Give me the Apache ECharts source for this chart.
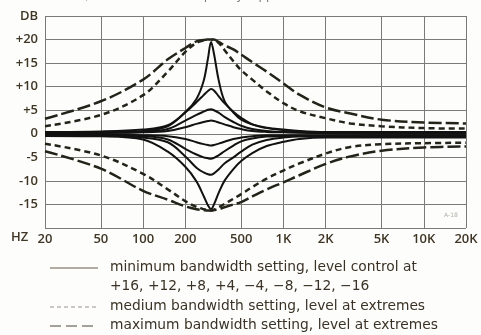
<!DOCTYPE html>
<html>
<head>
<meta charset="utf-8">
<script src="https://cdn.jsdelivr.net/npm/echarts@6/dist/echarts.min.js"></script>
<style>
  html, body { margin: 0; padding: 0; background: #fdfdfb; }
  #chart { width: 481px; height: 335px; }
</style>
</head>
<body>
<div id="chart"></div>
<script>
// frequency grid the curves are read at (Hz)
const freqHz = [20, 50, 100, 150, 200, 240, 270, 290, 305, 320, 345, 380, 440, 500, 600, 760, 1000, 1300, 2000, 3000, 5000, 10000, 20000]

// x-axis gridlines / labels
const gridHz = [20, 50, 100, 200, 500, 1000, 2000, 5000, 10000, 20000]
const gridLabels = ['20', '50', '100', '200', '500', '1K', '2K', '5K', '10K', '20K']

// minimum bandwidth, level control settings (solid)
const minBwPos1 = [0.4, 0.5, 0.9, 1.8, 4.6, 7.4, 11.2, 16.0, 19.5, 17.0, 11.5, 7.0, 4.5, 3.0, 2.0, 1.3, 0.9, 0.6, 0.4, 0.4, 0.4, 0.4, 0.4]
const minBwPos2 = [0.3, 0.35, 0.6, 1.6, 4.5, 6.7, 8.2, 9.1, 9.5, 9.2, 8.0, 6.5, 4.7, 3.4, 2.0, 1.2, 0.8, 0.5, 0.3, 0.3, 0.3, 0.3, 0.3]
const minBwPos3 = [0.2, 0.25, 0.4, 1.0, 2.8, 4.0, 4.7, 5.1, 5.2, 5.0, 4.5, 3.6, 2.5, 1.7, 1.0, 0.6, 0.4, 0.3, 0.2, 0.15, 0.15, 0.15, 0.15]
const minBwPos4 = [0.1, 0.15, 0.3, 0.6, 1.4, 2.1, 2.5, 2.7, 2.8, 2.7, 2.4, 2.0, 1.4, 1.0, 0.6, 0.4, 0.3, 0.2, 0.1, 0.05, 0, 0, 0]
const minBwNeg1 = [-0.1, -0.15, -0.3, -0.5, -1.1, -1.8, -2.2, -2.4, -2.5, -2.4, -2.1, -1.7, -1.1, -0.8, -0.5, -0.3, -0.3, -0.3, -0.3, -0.3, -0.3, -0.3, -0.3]
const minBwNeg2 = [-0.2, -0.25, -0.5, -1.2, -3.2, -4.4, -5.0, -5.2, -5.3, -5.1, -4.6, -3.7, -2.5, -1.6, -1.0, -0.6, -0.5, -0.45, -0.45, -0.45, -0.45, -0.45, -0.45]
const minBwNeg3 = [-0.3, -0.35, -0.8, -1.8, -4.8, -7.2, -8.2, -8.6, -8.7, -8.4, -7.6, -6.3, -5.0, -3.8, -2.3, -1.3, -0.8, -0.6, -0.6, -0.6, -0.6, -0.6, -0.6]
const minBwNeg4 = [-0.45, -0.55, -1.2, -3.8, -7.0, -10.1, -13.2, -15.2, -16.0, -15.0, -12.6, -10.0, -7.5, -5.8, -4.1, -2.6, -1.7, -1.1, -0.8, -0.8, -0.8, -0.8, -0.8]

// medium bandwidth, level at extremes (short dash)
const medBwPos = [1.6, 4.0, 8.2, 13.2, 17.4, 19.3, 19.8, 20.0, 20.0, 19.8, 19.3, 17.8, 15.4, 13.5, 11.5, 9.0, 6.5, 4.8, 3.3, 2.2, 1.6, 1.2, 1.1]
const medBwNeg = [-2.1, -4.6, -8.5, -11.8, -14.3, -15.5, -16.0, -16.2, -16.3, -16.1, -15.6, -14.9, -13.8, -12.8, -11.3, -9.5, -7.8, -6.3, -4.2, -2.8, -2.2, -2.0, -1.9]

// maximum bandwidth, level at extremes (long dash)
const maxBwPos = [3.2, 6.9, 11.5, 15.8, 18.2, 19.6, 19.9, 20.0, 20.0, 20.0, 19.5, 18.8, 17.9, 16.8, 15.2, 13.2, 10.7, 8.3, 5.6, 4.3, 3.0, 2.4, 2.2]
const maxBwNeg = [-3.7, -7.4, -12.1, -14.0, -15.4, -16.0, -16.2, -16.3, -16.3, -16.2, -16.0, -15.6, -15.0, -14.5, -13.3, -11.8, -10.3, -8.8, -6.4, -4.8, -3.6, -2.9, -2.7]

const FONT = '"DejaVu Sans", "Open Sans", sans-serif'
const LABEL_COLOR = '#3f3626'
const TEXT_COLOR = '#3a3226'
const GRID_COLOR = '#7a7a76'

const toPoints = (vals) => freqHz.map((f, i) => [Math.log10(f), vals[i]])

const solidSeries = [minBwPos1, minBwPos2, minBwPos3, minBwPos4, minBwNeg1, minBwNeg2, minBwNeg3, minBwNeg4].map((vals) => ({
  name: 'minimum bandwidth',
  type: 'line',
  data: toPoints(vals),
  smooth: 0.35,
  symbol: 'none',
  silent: true,
  lineStyle: { color: '#121212', width: 2 },
}))

const dashSeries = [
  { vals: medBwPos, dash: [6, 4] },
  { vals: medBwNeg, dash: [6, 4] },
  { vals: maxBwPos, dash: [13, 4] },
  { vals: maxBwNeg, dash: [13, 4] },
].map((d) => ({
  name: 'bandwidth extremes',
  type: 'line',
  data: toPoints(d.vals),
  smooth: 0.35,
  symbol: 'none',
  silent: true,
  lineStyle: { color: '#24231a', width: 2.5, type: d.dash },
}))

const chart = echarts.init(document.getElementById('chart'), null, { renderer: 'canvas' })

const legendX = 110
const legendFont = '13.8px ' + FONT
const option = {
  backgroundColor: '#fdfdfb',
  animation: false,
  grid: { left: 45, right: 15, top: 16, bottom: 107 },
  xAxis: {
    type: 'value',
    min: Math.log10(20),
    max: Math.log10(20000),
    axisLine: { show: false },
    axisTick: { show: false, customValues: gridHz.map((f) => Math.log10(f)) },
    splitLine: { show: true, lineStyle: { color: GRID_COLOR, width: 1 } },
    axisLabel: {
      customValues: gridHz.map((f) => Math.log10(f)),
      formatter: (v) => {
        let best = 0
        gridHz.forEach((f, i) => {
          if (Math.abs(Math.log10(f) - v) < Math.abs(Math.log10(gridHz[best]) - v)) best = i
        })
        return gridLabels[best]
      },
      color: LABEL_COLOR,
      fontFamily: 'Open Sans',
      fontWeight: 600,
      fontSize: 13,
      margin: 5,
    },
  },
  yAxis: {
    type: 'value',
    min: -20,
    max: 25,
    interval: 5,
    axisLine: { show: false },
    axisTick: { show: false },
    splitLine: { show: true, lineStyle: { color: GRID_COLOR, width: 1 } },
    axisLabel: {
      formatter: (v) => (v === 25 ? 'DB' : v === -20 ? '' : v > 0 ? '+' + v : String(v)),
      color: LABEL_COLOR,
      fontFamily: 'Open Sans',
      fontWeight: 600,
      fontSize: 13,
      margin: 7,
    },
  },
  graphic: [
    {
      type: 'text', left: 60, top: -10,
      style: { text: 'at +/-3 dB of center frequency, approx. 330 Hz', fill: '#777', font: '12px ' + FONT },
    },
    {
      type: 'text', left: 11, top: 231,
      style: { text: 'HZ', fill: LABEL_COLOR, font: '600 13px "Open Sans"' },
    },
    {
      type: 'text', left: 444, top: 212,
      style: { text: 'A-18', fill: '#b0b0a8', font: '6px ' + FONT },
    },
    // legend
    { type: 'line', shape: { x1: 50, y1: 268, x2: 98, y2: 268 }, style: { stroke: '#6a5a4a', lineWidth: 1 } },
    { type: 'line', shape: { x1: 50, y1: 307, x2: 98, y2: 307 }, style: { stroke: '#9a9088', lineWidth: 1, lineDash: [4, 3] } },
    { type: 'line', shape: { x1: 50, y1: 326, x2: 98, y2: 326 }, style: { stroke: '#4a4238', lineWidth: 1, lineDash: [11, 5] } },
    {
      type: 'text', left: legendX, top: 260,
      style: { text: 'minimum bandwidth setting, level control at', fill: TEXT_COLOR, font: legendFont },
    },
    {
      type: 'text', left: legendX, top: 279,
      style: { text: '+16, +12, +8, +4, \u22124, \u22128, \u221212, \u221216', fill: TEXT_COLOR, font: legendFont },
    },
    {
      type: 'text', left: legendX, top: 299,
      style: { text: 'medium bandwidth setting, level at extremes', fill: TEXT_COLOR, font: legendFont },
    },
    {
      type: 'text', left: legendX, top: 318,
      style: { text: 'maximum bandwidth setting, level at extremes', fill: TEXT_COLOR, font: legendFont },
    },
  ],
  series: [...solidSeries, ...dashSeries],
}

chart.setOption(option)
</script>
</body>
</html>
